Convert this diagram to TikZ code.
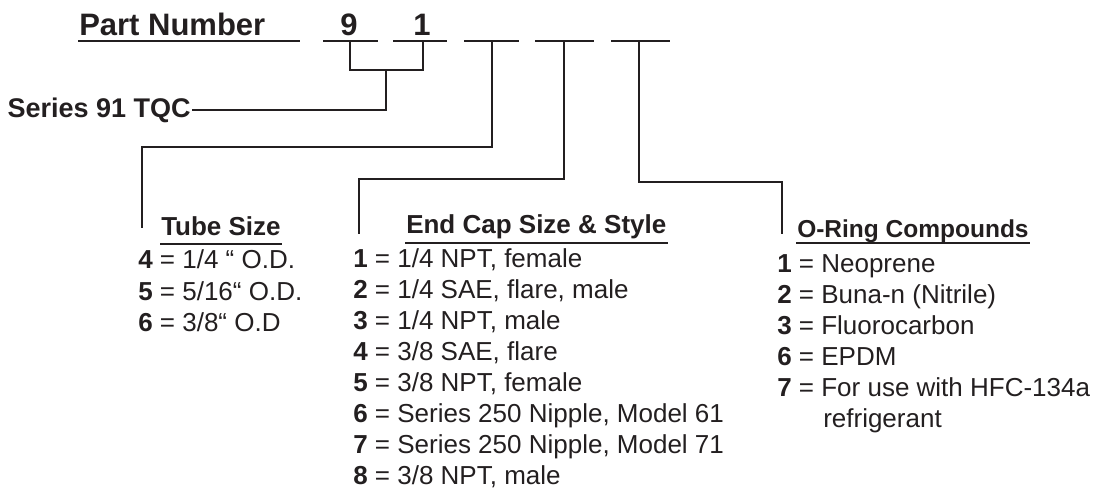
\documentclass[tikz,border=0pt]{standalone}
\usepackage{fontspec}
\setmainfont{Liberation Sans}
\usetikzlibrary{positioning}
\definecolor{ink}{HTML}{231F20}
\tikzset{
  head/.style={inner sep=0pt, anchor=base west, font=\fontsize{26}{31}\selectfont\bfseries},
  item/.style={inner sep=0pt, anchor=base west, font=\fontsize{26}{31}\selectfont},
  digit/.style={inner sep=0pt, anchor=base, font=\fontsize{31}{31}\selectfont\bfseries},
}
\begin{document}
\begin{tikzpicture}[x=1pt, y=-1pt, line width=2.5pt, color=ink]
\useasboundingbox (0,0) rectangle (1103,496);
% part number and the five places
\node[digit, anchor=base west] (pn) at (78,35) {Part Number};
\draw ([yshift=-6pt]pn.base west) -- (300,41);
\coordinate (a1) at (323,41); \coordinate (b1) at (378,41);
\coordinate (a2) at (393,41); \coordinate (b2) at (447,41);
\coordinate (a3) at (464,41); \coordinate (b3) at (519,41);
\coordinate (a4) at (535,41); \coordinate (b4) at (594,41);
\coordinate (a5) at (611,41); \coordinate (b5) at (670,41);
\draw (a1) -- (b1) (a2) -- (b2) (a3) -- (b3) (a4) -- (b4) (a5) -- (b5);
\node[digit] (d9) at (349,35) {9};
\node[digit] (d1) at (422,35) {1};
% series
\node[head, anchor=east, font=\fontsize{27}{31}\selectfont\bfseries] (ser) at (192,110) {Series 91 TQC};
\coordinate (c1) at (350,41); \coordinate (c2) at (423,41);
\coordinate (br) at (386,70);
\draw (c1) |- (br) -| (c2);
\draw (ser.east) -| (br);
% tube size
\coordinate (c3) at (492,41); \coordinate (tb) at (142,228);
\draw (c3) -- (492,147) -| (tb);
\node[head] (tube) at (160,235) {Tube Size};
\draw ([yshift=-9pt]tube.base west) -- ([yshift=-9pt]tube.base east);
\node[item] (t4) at (137,268) {\textbf{4} = 1/4 “ O.D.};
\node[item] (t5) at (137,300) {\textbf{5} = 5/16“ O.D.};
\node[item] (t6) at (137,331) {\textbf{6} = 3/8“ O.D};
% end cap
\coordinate (c4) at (564,41); \coordinate (eb) at (359,234);
\draw (c4) -- (564,179) -| (eb);
\node[head] (cap) at (405,233) {End Cap Size \& Style};
\draw ([yshift=-10pt]cap.base west) -- ([yshift=-10pt]cap.base east);
\node[item] (e1) at (352,267) {\textbf{1} = 1/4 NPT, female};
\node[item] (e2) at (352,298) {\textbf{2} = 1/4 SAE, flare, male};
\node[item] (e3) at (352,329) {\textbf{3} = 1/4 NPT, male};
\node[item] (e4) at (352,360) {\textbf{4} = 3/8 SAE, flare};
\node[item] (e5) at (352,391) {\textbf{5} = 3/8 NPT, female};
\node[item] (e6) at (352,422) {\textbf{6} = Series 250 Nipple, Model 61};
\node[item] (e7) at (352,453) {\textbf{7} = Series 250 Nipple, Model 71};
\node[item] (e8) at (352,484) {\textbf{8} = 3/8 NPT, male};
% o-ring
\coordinate (c5) at (639,41); \coordinate (ob) at (782,234);
\draw (c5) -- (639,182) -| (ob);
\node[head, font=\fontsize{24.5}{31}\selectfont\bfseries] (ring) at (796,237) {O-Ring Compounds};
\draw ([yshift=-6pt]ring.base west) -- ([yshift=-6pt]ring.base east);
\node[item] (o1) at (776,272) {\textbf{1} = Neoprene};
\node[item] (o2) at (776,303) {\textbf{2} = Buna-n (Nitrile)};
\node[item] (o3) at (776,334) {\textbf{3} = Fluorocarbon};
\node[item] (o6) at (776,365) {\textbf{6} = EPDM};
\node[item] (o7) at (776,396) {\textbf{7} = For use with HFC-134a};
\node[item] (o8) at (822,427) {refrigerant};
\end{tikzpicture}
\end{document}
